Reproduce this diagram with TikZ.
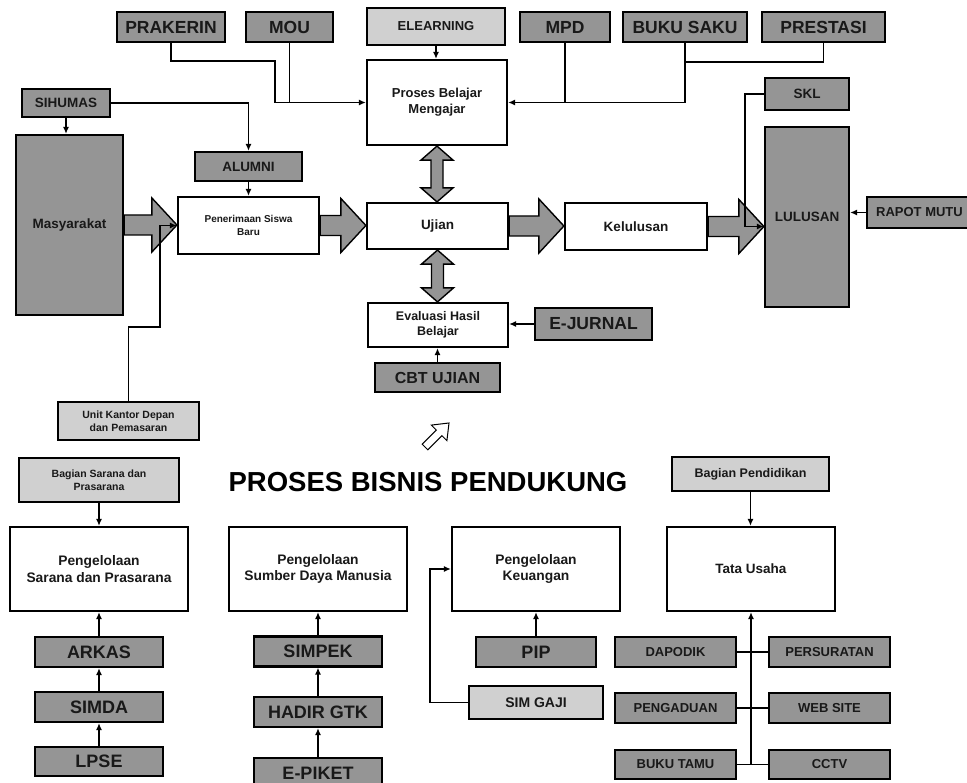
\documentclass[tikz,border=0pt]{standalone}
\usepackage{fontspec}
\setmainfont{Liberation Sans}
\usetikzlibrary{arrows.meta,calc}
\definecolor{boxdark}{HTML}{959595}
\definecolor{boxlight}{HTML}{D0D0D0}
\definecolor{arrowgray}{HTML}{959595}
\tikzset{
  darkbox/.style={draw=black, line width=2.2pt, fill=boxdark, inner sep=0pt, align=center,
    text=black!90, font=\bfseries\fontsize{17.5}{19}\selectfont},
  lightbox/.style={darkbox, fill=boxlight},
  whitebox/.style={darkbox, fill=white, font=\bfseries\fontsize{13.5}{16}\selectfont},
  midtext/.style={font=\bfseries\fontsize{13.5}{16}\selectfont},
  smalltext/.style={font=\bfseries\fontsize{10.5}{12.5}\selectfont},
  link/.style={draw=black, line width=1.3pt, -{Latex[length=7pt,width=6pt]}},
  plain/.style={draw=black, line width=1.3pt},
  fatarrow/.style={draw=black, line width=1.4pt, fill=arrowgray, line join=miter},
}
%% fat block arrow from the east side of #1 to the west side of #2
\newcommand{\fatright}[2]{%
  \filldraw[fatarrow] let \p1=(#1.east), \p2=(#2.west) in
    (\x1,\y1+10pt) -- (\x2-25pt,\y1+10pt) -- (\x2-25pt,\y1+27pt) -- (\x2,\y1)
    -- (\x2-25pt,\y1-27pt) -- (\x2-25pt,\y1-10pt) -- (\x1,\y1-10pt) -- cycle;}
%% fat double arrow between the south side of #1 and the north side of #2
\newcommand{\fatupdown}[2]{%
  \filldraw[fatarrow] let \p1=(#1.south), \p2=(#2.north) in
    (\x1,\y1) -- (\x1+16pt,\y1-14pt) -- (\x1+6pt,\y1-14pt) -- (\x1+6pt,\y2+14pt)
    -- (\x1+16pt,\y2+14pt) -- (\x1,\y2) -- (\x1-16pt,\y2+14pt) -- (\x1-6pt,\y2+14pt)
    -- (\x1-6pt,\y1-14pt) -- (\x1-16pt,\y1-14pt) -- cycle;}
\begin{document}
\begin{tikzpicture}[x=1pt, y=-1pt]
\useasboundingbox (0,0) rectangle (967,783);

%% proses bisnis utama
\node[darkbox, minimum width=108, minimum height=30] (prakerin) at (171,27) {PRAKERIN};
\node[darkbox, minimum width=87, minimum height=30] (mou) at (289.5,27) {MOU};
\node[lightbox, font=\bfseries\fontsize{13}{15}\selectfont, minimum width=138, minimum height=37] (elearning) at (436,26.5) {ELEARNING};
\node[darkbox, minimum width=90, minimum height=30] (mpd) at (565,27) {MPD};
\node[darkbox, minimum width=124, minimum height=30] (bukusaku) at (685,27) {BUKU SAKU};
\node[darkbox, minimum width=123, minimum height=30] (prestasi) at (823.5,27) {PRESTASI};

\node[whitebox, font=\bfseries\fontsize{13}{16}\selectfont, minimum width=140, minimum height=85] (pbm) at (437,102.5) {Proses Belajar\\Mengajar};
\node[darkbox, midtext, minimum width=88, minimum height=28] (sihumas) at (66,103) {SIHUMAS};
\node[darkbox, midtext, minimum width=107, minimum height=180] (masyarakat) at (69.5,225) {Masyarakat};
\node[darkbox, midtext, minimum width=107, minimum height=29] (alumni) at (248.5,166.5) {ALUMNI};
\node[whitebox, font=\bfseries\fontsize{10}{12.5}\selectfont, minimum width=141, minimum height=57] (psb) at (248.5,225.5) {Penerimaan Siswa\\Baru};
\node[whitebox, minimum width=141, minimum height=46] (ujian) at (437.5,226) {Ujian};
\node[whitebox, minimum width=142, minimum height=47] (kelulusan) at (636,226.5) {Kelulusan};
\node[darkbox, midtext, minimum width=84, minimum height=180] (lulusan) at (807,217) {LULUSAN};
\node[darkbox, midtext, minimum width=84, minimum height=32] (skl) at (807,94) {SKL};
\node[darkbox, font=\bfseries\fontsize{13}{15}\selectfont, minimum width=105, minimum height=31] (rapot) at (919.5,212.5) {RAPOT MUTU};
\node[whitebox, font=\bfseries\fontsize{12.5}{15}\selectfont, minimum width=140, minimum height=44] (evaluasi) at (438,325) {Evaluasi Hasil\\Belajar};
\node[darkbox, minimum width=117, minimum height=32] (ejurnal) at (593.5,324) {E-JURNAL};
\node[darkbox, font=\bfseries\fontsize{16}{18}\selectfont, minimum width=125, minimum height=29] (cbt) at (437.5,377.5) {CBT UJIAN};
\node[lightbox, smalltext, minimum width=141, minimum height=38] (ukdp) at (128.5,421) {Unit Kantor Depan\\dan Pemasaran};

\fatright{masyarakat}{psb}
\fatright{psb}{ujian}
\fatright{ujian}{kelulusan}
\fatright{kelulusan}{lulusan}
\fatupdown{pbm}{ujian}
\fatupdown{ujian}{evaluasi}

\coordinate (pkturn) at (275,61);
\coordinate (prjoin) at (686,62);
\coordinate (ukturn) at (160,327);
\draw[link] (prakerin.south) |- (pkturn) |- (pbm.west);
\draw[plain] (mou.south) -- (mou.south |- pbm.west);
\draw[link] (elearning.south) -- (elearning.south |- pbm.north);
\draw[link] (mpd.south) |- (pbm.east);
\draw[plain] (bukusaku.south) |- (mpd.south |- pbm.east);
\draw[plain] (prestasi.south) |- (prjoin);
\draw[link] (sihumas.east) -| (alumni.north);
\draw[link] (sihumas.south) -- (sihumas.south |- masyarakat.north);
\draw[link] (alumni.south) -- (psb.north);
\draw[link] (ukdp.north) |- (ukturn) |- (psb.west);
\draw[link] (skl.west) -- ++(-19,0) |- (kelulusan.east -| lulusan.west);
\draw[link] (rapot.west) -- (rapot.west -| lulusan.east);
\draw[link] (ejurnal.west) -- (ejurnal.west -| evaluasi.east);
\draw[link] (cbt.north) -- (cbt.north |- evaluasi.south);

%% panah kecil ke judul
\draw[line width=1pt, fill=white, shift={(437,435)}, rotate=45]
  (-17,-4) -- (3,-4) -- (3,-11) -- (17,0) -- (3,11) -- (3,4) -- (-17,4) -- cycle;

%% proses bisnis pendukung
\node[font=\bfseries\fontsize{27.5}{30}\selectfont] (title) at (428,482) {PROSES BISNIS PENDUKUNG};

\node[lightbox, smalltext, minimum width=160, minimum height=44] (bsp) at (99,480) {Bagian Sarana dan\\Prasarana};
\node[whitebox, font=\bfseries\fontsize{13.8}{16.5}\selectfont, minimum width=178, minimum height=84] (psp) at (99,569) {Pengelolaan\\Sarana dan Prasarana};
\node[darkbox, font=\bfseries\fontsize{18}{20}\selectfont, minimum width=128, minimum height=30] (arkas) at (99,652) {ARKAS};
\node[darkbox, font=\bfseries\fontsize{18}{20}\selectfont, minimum width=128, minimum height=30] (simda) at (99,707) {SIMDA};
\node[darkbox, font=\bfseries\fontsize{18}{20}\selectfont, minimum width=128, minimum height=29] (lpse) at (99,761.5) {LPSE};

\node[whitebox, font=\bfseries\fontsize{13.8}{16.5}\selectfont, minimum width=178, minimum height=84] (psdm) at (318,569) {Pengelolaan\\Sumber Daya Manusia};
\node[darkbox, font=\bfseries\fontsize{18}{20}\selectfont, minimum width=128, minimum height=30] (simpek) at (318,651.5) {SIMPEK};
\node[darkbox, font=\bfseries\fontsize{18}{20}\selectfont, minimum width=128, minimum height=30] (hadir) at (318,712) {HADIR GTK};
\node[darkbox, font=\bfseries\fontsize{18}{20}\selectfont, minimum width=128, minimum height=30] (epiket) at (318,773) {E-PIKET};

\node[whitebox, font=\bfseries\fontsize{13.8}{16.5}\selectfont, minimum width=168, minimum height=84] (pk) at (536,569) {Pengelolaan\\Keuangan};
\node[darkbox, font=\bfseries\fontsize{18}{20}\selectfont, minimum width=120, minimum height=30] (pip) at (536,652) {PIP};
\node[lightbox, font=\bfseries\fontsize{14}{16}\selectfont, minimum width=134, minimum height=33] (simgaji) at (536,702.5) {SIM GAJI};

\node[lightbox, font=\bfseries\fontsize{12.5}{15}\selectfont, minimum width=157, minimum height=34] (bpend) at (750.5,474) {Bagian Pendidikan};
\node[whitebox, minimum width=168, minimum height=84] (tu) at (751,569) {Tata Usaha};
\node[darkbox, font=\bfseries\fontsize{13}{15}\selectfont, minimum width=121, minimum height=30] (dapodik) at (675.5,652) {DAPODIK};
\node[darkbox, font=\bfseries\fontsize{13}{15}\selectfont, minimum width=121, minimum height=30] (persuratan) at (829.5,652) {PERSURATAN};
\node[darkbox, font=\bfseries\fontsize{13}{15}\selectfont, minimum width=121, minimum height=30] (pengaduan) at (675.5,708) {PENGADUAN};
\node[darkbox, font=\bfseries\fontsize{13}{15}\selectfont, minimum width=121, minimum height=30] (website) at (829.5,708) {WEB SITE};
\node[darkbox, font=\bfseries\fontsize{13}{15}\selectfont, minimum width=121, minimum height=29] (bukutamu) at (675.5,764.5) {BUKU TAMU};
\node[darkbox, font=\bfseries\fontsize{13}{15}\selectfont, minimum width=121, minimum height=29] (cctv) at (829.5,764.5) {CCTV};

\draw[link] (bsp.south) -- (bsp.south |- psp.north);
\draw[link] (arkas.north) -- (arkas.north |- psp.south);
\draw[link] (simda.north) -- (arkas.south);
\draw[link] (lpse.north) -- (simda.south);
\draw[link] (simpek.north) -- (psdm.south);
\draw[link] (hadir.north) -- (simpek.south);
\draw[link] (epiket.north) -- (hadir.south);
\draw[link] (pip.north) -- (pk.south);
\draw[link] (simgaji.west) -- ++(-38,0) |- (pk.west);
\draw[link] (bpend.south) -- (bpend.south |- tu.north);
\draw[link] (bukutamu.east -| tu.south) -- (tu.south);
\draw[plain] (dapodik.east) -- (persuratan.west);
\draw[plain] (pengaduan.east) -- (website.west);
\draw[plain] (bukutamu.east) -- (cctv.west);
\end{tikzpicture}
\end{document}
